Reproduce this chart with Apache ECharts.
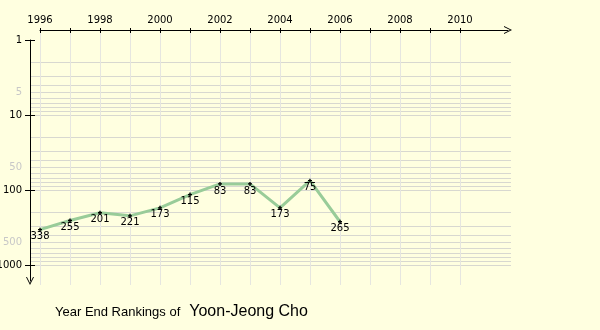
<!DOCTYPE html>
<html><head><meta charset="utf-8">
<script src="https://cdn.jsdelivr.net/npm/echarts@6/dist/echarts.min.js"></script>
<style>html,body{margin:0;padding:0;background:#ffffe0;}#c{width:600px;height:330px;}</style>
</head><body><div id="c"></div>
<script>
const years = [1996,1997,1998,1999,2000,2001,2002,2003,2004,2005,2006];
const ranks = [338,255,201,221,173,115,83,83,173,75,265];
const xTickYears = [1996,1997,1998,1999,2000,2001,2002,2003,2004,2005,2006,2007,2008,2009,2010];
const xLabelYears = [1996,1998,2000,2002,2004,2006,2008,2010];
const yTicks = [1,10,100,1000];
const yLabels = [1,5,10,50,100,500,1000];
const yGrayLabels = [5,50,500];
const yGridValues = [2,3,4,5,6,7,8,9,10,20,30,40,50,60,70,80,90,100,200,300,400,500,600,700,800,900,1000];
const titleLead = 'Year End Rankings of';
const playerName = 'Yoon-Jeong Cho';

const font = 'DejaVu Sans';
const chevron = 'path://M0,10 L5,0 L10,10 L8.8,10 L5,2.4 L1.2,10 Z';
const xMin1 = 1996, xMax1 = 1996 + 468/30;
const yMin1 = 1, yMax1 = Math.pow(10, 241/75);

const chart = echarts.init(document.getElementById('c'), null, {renderer:'canvas'});
chart.setOption({
  backgroundColor: '#ffffe0',
  animation: false,
  title: {
    text: '{a|' + titleLead + '}{b|' + playerName + '}',
    left: 50, top: 299,
    textStyle: {
      fontWeight: 'normal',
      rich: {
        a: {fontFamily: 'Liberation Sans', fontSize: 13, fontWeight: 'normal', color: '#000'},
        b: {fontFamily: 'Liberation Sans', fontSize: 16, fontWeight: 'normal', color: '#000', padding: [0,0,0,9]}
      }
    }
  },
  grid: [
    {left: 30, top: 30, right: 89, bottom: 45, outerBoundsMode: 'none', containLabel: false},
    {left: 40, top: 40, right: 92, bottom: 49, outerBoundsMode: 'none', containLabel: false}
  ],
  xAxis: [
    {gridIndex: 0, type: 'value', min: 1996 - 1/3, max: 1996 + 481/30 - 1/3, show: false},
    {gridIndex: 1, type: 'value', min: xMin1, max: xMax1, position: 'top', offset: 10, z: 10,
     axisLine: {show: true, lineStyle: {color: '#000', width: 1}, symbol: ['none', chevron], symbolSize: [8, 8]},
     axisTick: {show: true, length: 2, customValues: xTickYears, lineStyle: {color: '#000'}},
     axisLabel: {show: true, customValues: xLabelYears, margin: 5, formatter: v => String(v), fontFamily: font, fontSize: 10, color: '#000'},
     splitLine: {show: false}},
    {gridIndex: 1, type: 'value', min: xMin1, max: xMax1, position: 'top', offset: 10, z: 10,
     axisLine: {show: false},
     axisTick: {show: true, inside: true, length: 3, customValues: xTickYears, lineStyle: {color: '#000'}},
     axisLabel: {show: false}, splitLine: {show: false}}
  ],
  yAxis: [
    {gridIndex: 0, type: 'log', logBase: 10, min: Math.pow(10, -2/15), max: Math.pow(10, 245/75), inverse: true, show: false},
    {gridIndex: 1, type: 'log', logBase: 10, min: yMin1, max: yMax1, inverse: true, position: 'left', offset: 10, z: 10,
     axisLine: {show: true, lineStyle: {color: '#000', width: 1}, symbol: [chevron, 'none'], symbolSize: [8, 8]},
     axisTick: {show: true, length: 5, customValues: yTicks, lineStyle: {color: '#000'}},
     axisLabel: {show: true, customValues: yLabels, margin: 8, formatter: v => String(v), fontFamily: font, fontSize: 10,
       color: (v) => yGrayLabels.indexOf(Math.round(Number(v))) >= 0 ? '#c8c8c8' : '#000'},
     splitLine: {show: false}, minorSplitLine: {show: false}},
    {gridIndex: 1, type: 'log', logBase: 10, min: yMin1, max: yMax1, inverse: true, position: 'left', offset: 10, z: 10,
     axisLine: {show: false},
     axisTick: {show: true, inside: true, length: 5, customValues: yTicks, lineStyle: {color: '#000'}},
     axisLabel: {show: false}, splitLine: {show: false}, minorSplitLine: {show: false}}
  ],
  series: [
    {
      type: 'line', xAxisIndex: 0, yAxisIndex: 0, data: [], z: 1, silent: true,
      markLine: {
        silent: true, symbol: 'none', label: {show: false}, animation: false,
        data: yGridValues.map(v => ({yAxis: v, lineStyle: {color: '#d8d8d0', width: 1, type: 'solid'}}))
          .concat(xTickYears.map(v => ({xAxis: v, lineStyle: {color: '#e6e6e0', width: 1, type: 'solid'}})))
      }
    },
    {
      type: 'line', xAxisIndex: 0, yAxisIndex: 0, z: 5,
      data: years.map((y, i) => [y, ranks[i]]),
      lineStyle: {color: '#99cc99', width: 3},
      symbol: 'path://M1,0 L2,0 L2,1 L3,1 L3,2 L2,2 L2,3 L1,3 L1,2 L0,2 L0,1 L1,1 Z',
      symbolSize: 4,
      itemStyle: {color: '#000'},
      label: {show: true, position: 'bottom', distance: 0, fontFamily: font, fontSize: 10, color: '#000',
        formatter: p => String(p.value[1])}
    }
  ]
});
</script></body></html>
